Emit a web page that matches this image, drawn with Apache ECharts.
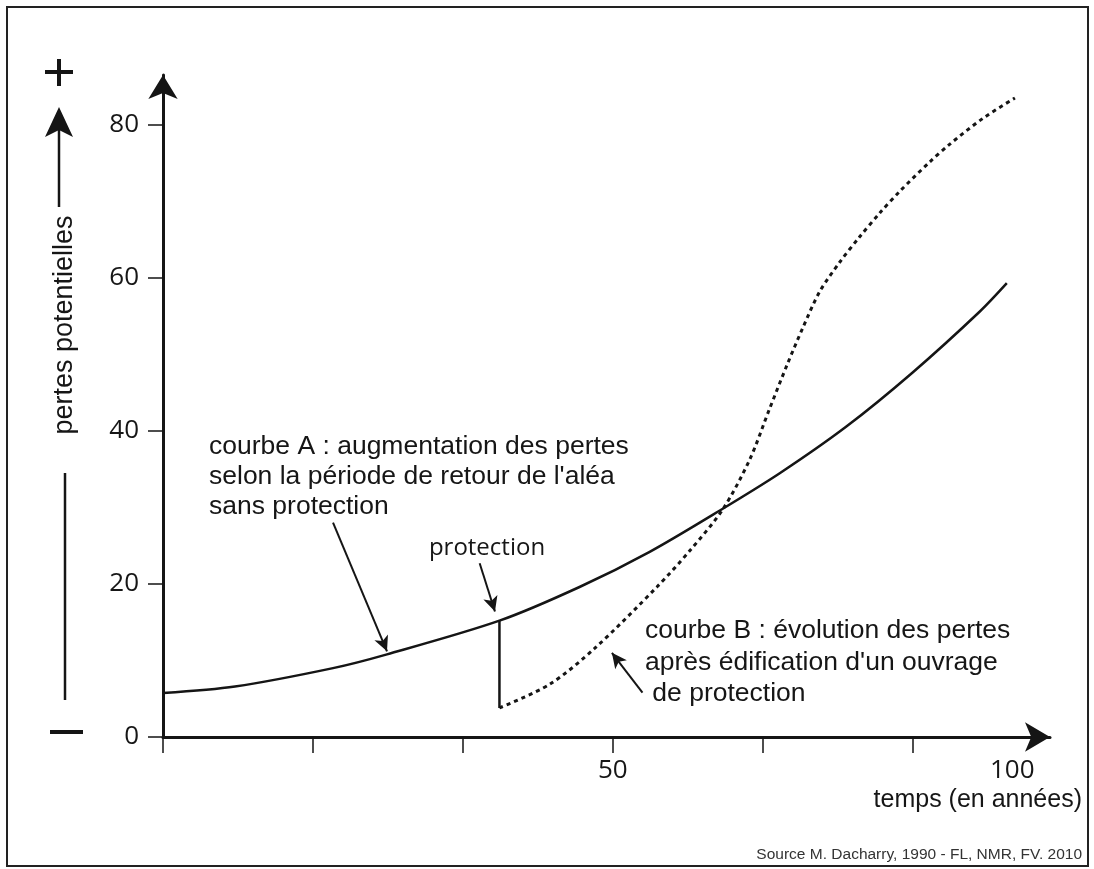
<!DOCTYPE html>
<html><head><meta charset="utf-8">
<script src="https://cdn.jsdelivr.net/npm/echarts@6/dist/echarts.min.js"></script>
<style>html,body{margin:0;padding:0;background:#fff}#c{width:1094px;height:869px}</style>
</head><body><div id="c"></div>
<script>
// Curve A: losses without protection
const curveAx = [0, 8, 18.9, 24.9, 37.4, 46.3, 54.1, 61.9, 68.6, 76.0, 83.3, 90.8, 93.8];
const curveAy = [5.75, 6.6, 9.0, 10.8, 15.2, 19.6, 24.2, 29.6, 34.5, 40.6, 47.6, 55.6, 59.3];
// Curve B: losses after protection works
const curveBx = [37.4, 43.0, 48.0, 54.9, 58.6, 62.2, 65.2, 67.4, 69.4, 71.1, 73.0, 75.2, 77.4, 79.7, 81.9, 85.2, 87.4, 91.1, 94.7];
const curveBy = [3.8, 6.9, 11.6, 19.6, 24.4, 29.7, 36.2, 42.8, 48.7, 53.4, 58.2, 62.0, 65.3, 68.5, 71.3, 75.1, 77.4, 80.8, 83.5];
// Protection drop (vertical segment)
const protectionX = [37.4, 37.4];
const protectionY = [15.2, 3.8];
// Axis ticks / labels
const yTicks = [0, 20, 40, 60, 80];
const xTicks = [0, 16.67, 33.33, 50, 66.67, 83.33];
const xLabelAt = [50, 94.4];
const xLabelText = ['50', '100'];
// Annotation arrows [fromX, fromY, toX, toY]
const arrowA = [18.9, 28.0, 24.9, 11.2];
const arrowProt = [35.2, 22.7, 36.9, 16.4];
const arrowB = [53.3, 5.8, 49.9, 11.0];

const zip = (xs, ys) => xs.map((x, i) => [x, ys[i]]);
const arrowPair = a => [{coord: [a[0], a[1]], symbol: 'none'}, {coord: [a[2], a[3]], symbol: 'arrow'}];

const chart = echarts.init(document.getElementById('c'), null, {renderer: 'canvas'});
const ink = '#151515';
const txt = '#161616';
chart.setOption({
  backgroundColor: '#ffffff',
  animation: false,
  grid: {left: 163, top: 75, right: 44, bottom: 132, outerBoundsMode: 'none'},
  xAxis: {
    type: 'value', min: 0, max: 98.6,
    splitLine: {show: false},
    axisLine: {lineStyle: {color: ink, width: 3}, symbol: ['none', 'arrow'], symbolSize: [22, 25]},
    axisTick: {show: true, length: 16, lineStyle: {color: ink, width: 1.5}, customValues: xTicks},
    axisLabel: {
      customValues: xLabelAt,
      formatter: v => { const i = xLabelAt.findIndex(p => Math.abs(p - v) < 0.01); return i >= 0 ? xLabelText[i] : ''; },
      fontFamily: 'Open Sans', fontSize: 26, color: txt, margin: 21
    }
  },
  yAxis: {
    type: 'value', min: 0, max: 86.5,
    splitLine: {show: false},
    axisLine: {lineStyle: {color: ink, width: 3}, symbol: ['none', 'arrow'], symbolSize: [22, 24]},
    axisTick: {show: true, length: 15, lineStyle: {color: ink, width: 1.5}, customValues: yTicks},
    axisLabel: {customValues: yTicks, fontFamily: 'Open Sans', fontSize: 26, color: txt, margin: 24}
  },
  series: [
    {type: 'line', data: zip(curveAx, curveAy), smooth: 0.3, showSymbol: false, silent: true,
     lineStyle: {color: ink, width: 2.5}},
    {type: 'line', data: zip(curveBx, curveBy), smooth: 0.3, showSymbol: false, silent: true,
     lineStyle: {color: ink, width: 3, type: [4, 4]}},
    {type: 'line', data: zip(protectionX, protectionY), showSymbol: false, silent: true,
     lineStyle: {color: ink, width: 2.5},
     markLine: {
       silent: true, symbolSize: [11, 15], label: {show: false},
       lineStyle: {color: ink, width: 2, type: 'solid'},
       data: [arrowPair(arrowA), arrowPair(arrowProt), arrowPair(arrowB)]
     }}
  ],
  graphic: [
    {type: 'rect', shape: {x: 7, y: 7, width: 1081, height: 859}, style: {fill: 'none', stroke: '#222', lineWidth: 2}, silent: true},
    // y-axis title with arrow, + and -
    {type: 'line', shape: {x1: 45, y1: 72, x2: 73, y2: 72}, style: {stroke: ink, lineWidth: 4}},
    {type: 'line', shape: {x1: 59, y1: 59, x2: 59, y2: 86}, style: {stroke: ink, lineWidth: 4}},
    {type: 'polygon', shape: {points: [[59, 107], [73, 137], [59, 130], [45, 137]]}, style: {fill: ink}},
    {type: 'line', shape: {x1: 59, y1: 130, x2: 59, y2: 207}, style: {stroke: ink, lineWidth: 2.5}},
    {type: 'text', x: 65, y: 325, rotation: Math.PI / 2,
     style: {text: 'pertes potentielles', font: '27px "Liberation Sans", Arial, sans-serif', fill: txt, align: 'center', verticalAlign: 'middle'}},
    {type: 'line', shape: {x1: 65, y1: 473, x2: 65, y2: 700}, style: {stroke: ink, lineWidth: 2.5}},
    {type: 'line', shape: {x1: 50, y1: 732, x2: 83, y2: 732}, style: {stroke: ink, lineWidth: 4}},
    // annotations
    {type: 'text', x: 209, y: 432,
     style: {text: "courbe A : augmentation des pertes\nselon la période de retour de l'aléa\nsans protection",
             font: '26.5px "Liberation Sans", Arial, sans-serif', lineHeight: 30, fill: txt, align: 'left', verticalAlign: 'top'}},
    {type: 'text', x: 487, y: 548,
     style: {text: 'protection', font: '24px "Open Sans", sans-serif', fill: txt, align: 'center', verticalAlign: 'middle'}},
    {type: 'text', x: 645, y: 615,
     style: {text: "courbe B : évolution des pertes\naprès édification d'un ouvrage\n de protection",
             font: '26.5px "Liberation Sans", Arial, sans-serif', lineHeight: 31.5, fill: txt, align: 'left', verticalAlign: 'top'}},
    {type: 'text', x: 1082, y: 800,
     style: {text: 'temps (en années)', font: '25px "Liberation Sans", Arial, sans-serif', fill: txt, align: 'right', verticalAlign: 'middle'}},
    {type: 'text', x: 1082, y: 855,
     style: {text: 'Source M. Dacharry, 1990 - FL, NMR, FV. 2010', font: '15.5px "Liberation Sans", Arial, sans-serif', fill: '#333', align: 'right', verticalAlign: 'middle'}}
  ]
});
</script></body></html>
